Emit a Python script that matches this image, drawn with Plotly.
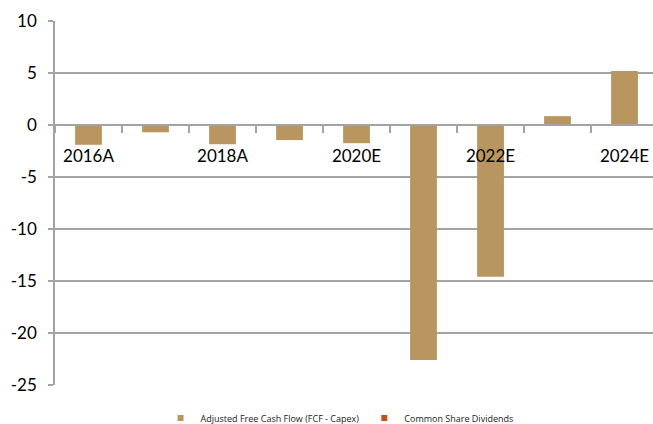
import plotly.graph_objects as go

categories = ["2016A", "2017A", "2018A", "2019E", "2020E", "2021E", "2022E", "2023E", "2024E"]
fcf = [-1.9, -0.7, -1.85, -1.45, -1.75, -22.6, -14.6, 0.85, 5.2]
dividends = [0, 0, 0, 0, 0, 0, 0, 0, 0]
shown_labels = ["2016A", "2018A", "2020E", "2022E", "2024E"]
y_ticks = [-25, -20, -15, -10, -5, 0, 5, 10]
y_ticklabels = ["-25", "-20", "-15", "-10", "-5", "0", "5", "10"]

xidx = list(range(len(categories)))
tickvals = [categories.index(c) for c in shown_labels]

GRID = "#A3A3A3"
TAN = "#B9955F"
ORANGE = "#C4501B"

fig = go.Figure()
fig.add_trace(go.Bar(x=xidx, y=dividends, name="Common Share Dividends", showlegend=False,
                     marker=dict(color=ORANGE, line=dict(width=0)), width=0.4))
fig.add_trace(go.Bar(x=xidx, y=fcf, name="Adjusted Free Cash Flow (FCF - Capex)", showlegend=False,
                     marker=dict(color=TAN, line=dict(width=0)), width=0.4))
# legend entries with small square swatches
for nm, col in [("Adjusted Free Cash Flow (FCF - Capex)", TAN), ("Common Share Dividends", ORANGE)]:
    fig.add_trace(go.Scatter(x=[None], y=[None], mode="markers", name=nm,
                             marker=dict(symbol="square", size=6, color=col), showlegend=True))

fig.update_layout(
    width=653, height=424,
    margin=dict(l=55, r=0, t=21, b=39, autoexpand=False),
    paper_bgcolor="white", plot_bgcolor="white",
    barmode="overlay",
    font=dict(family="Lato", color="black"),
    showlegend=True,
    legend=dict(orientation="h", xref="container", x=0.52, xanchor="center",
                yref="container", y=0.014, yanchor="middle",
                font=dict(size=9, family="Open Sans", color="#222"),
                itemwidth=30, bgcolor="rgba(0,0,0,0)", tracegroupgap=0),
    xaxis=dict(
        range=[-0.5, 8.425], anchor="free", position=25/35,
        tickmode="array", tickvals=tickvals, ticktext=shown_labels,
        ticks="", showgrid=False, zeroline=False,
        showline=True, linecolor=GRID, linewidth=1.5,
        tickfont=dict(size=17, family="Lato", color="black"),
        ticklabelstandoff=16,
        minor=dict(tick0=0.5, dtick=1, ticks="outside", ticklen=7, tickcolor=GRID,
                   tickwidth=1.5, showgrid=False),
    ),
    yaxis=dict(
        range=[-25, 10], tickmode="array", tickvals=y_ticks, ticktext=y_ticklabels,
        showgrid=True, gridcolor=GRID, gridwidth=1.5,
        zeroline=False, showline=True, linecolor=GRID, linewidth=1.5,
        ticks="outside", ticklen=5, tickcolor=GRID, tickwidth=1.5,
        tickfont=dict(size=17, family="Lato", color="black"),
        ticklabelstandoff=8,
    ),
)

fig.write_html("out.html")
